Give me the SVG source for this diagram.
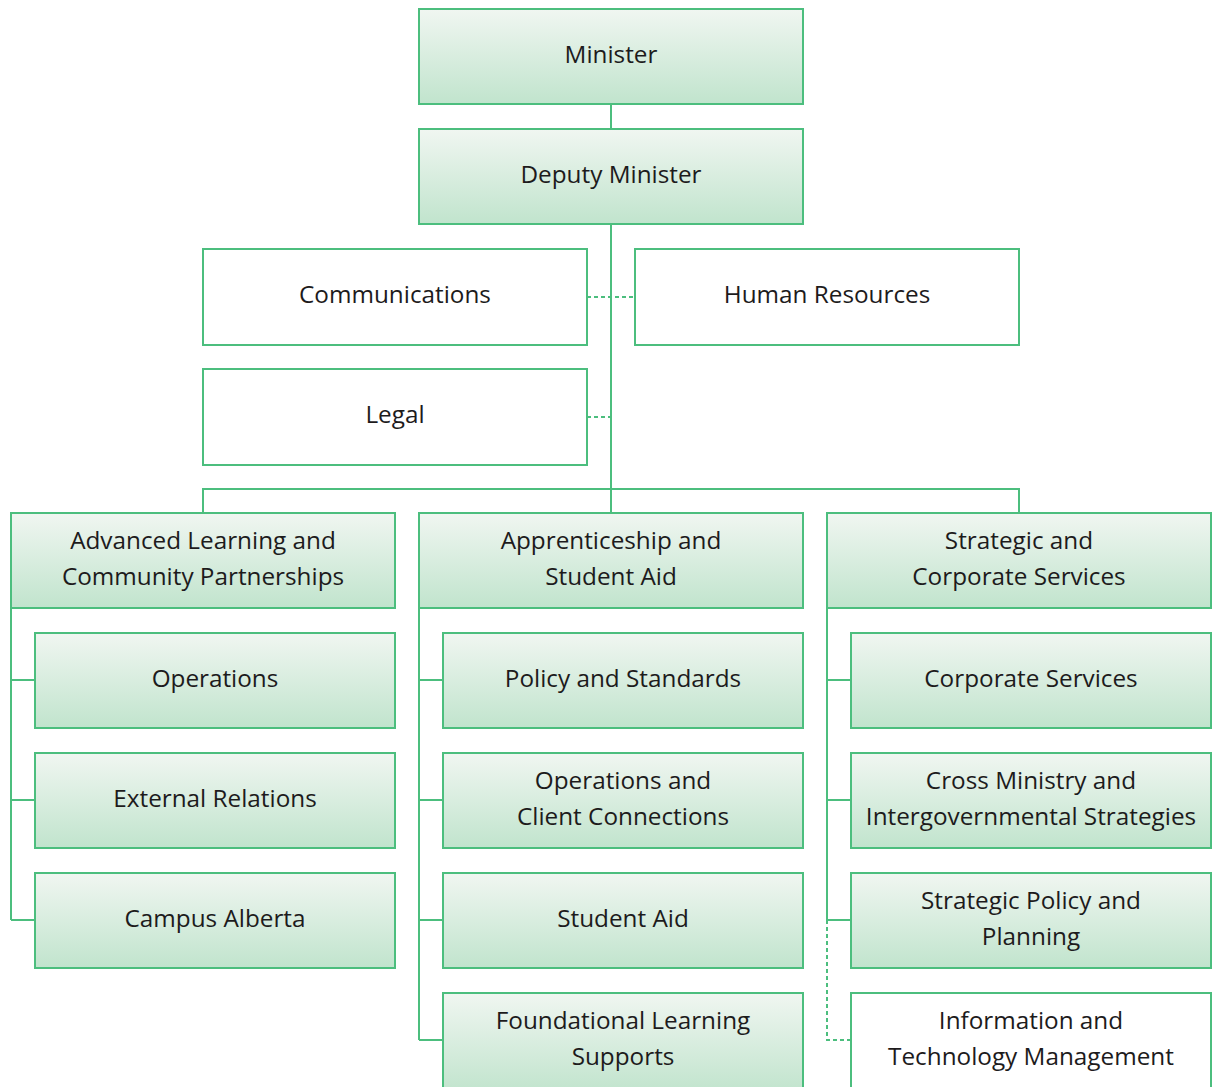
<svg xmlns="http://www.w3.org/2000/svg" width="1217" height="1087" viewBox="0 0 1217 1087">
  <defs>
    <linearGradient id="fill-green" x1="0" y1="0" x2="0" y2="1">
      <stop offset="0" stop-color="#f0f6f1"/>
      <stop offset="1" stop-color="#c1e4cd"/>
    </linearGradient>
    <style>
      .box { fill: url(#fill-green); stroke: #4cbe7e; stroke-width: 2; }
      .plain { fill: #ffffff; stroke: #4cbe7e; stroke-width: 2; }
      .lbl { font-family: "Open Sans", "Noto Sans", "Liberation Sans", sans-serif; font-size: 24.3px; fill: #1d1b1c; text-anchor: middle; dominant-baseline: central; }
      .line { fill: none; stroke: #4cbe7e; stroke-width: 2; }
      .dash { fill: none; stroke: #4cbe7e; stroke-width: 2; stroke-dasharray: 4 3; }
    </style>
  </defs>
  <rect width="1217" height="1087" fill="#ffffff"/>

  <!-- connectors -->
  <g id="connectors">
    <path class="line" d="M611 104 V129 M611 224 V489 M203 513 V489 H1019 V513 M611 489 V513"/>
    <path class="dash" d="M587 297 H635 M587 417 H611"/>
    <path class="line" d="M11 608 V920 M11 680 H35 M11 800 H35 M11 920 H35"/>
    <path class="line" d="M419 608 V1040 M419 680 H443 M419 800 H443 M419 920 H443 M419 1040 H443"/>
    <path class="line" d="M827 608 V920 M827 680 H851 M827 800 H851 M827 920 H851"/>
    <path class="dash" d="M827 920 V1040 H851"/>
  </g>

  <g id="minister"><rect class="box" x="419" y="9" width="384" height="95"/><text class="lbl" x="611" y="53">Minister</text></g>
  <g id="deputy-minister"><rect class="box" x="419" y="129" width="384" height="95"/><text class="lbl" x="611" y="173">Deputy Minister</text></g>
  <g id="communications"><rect class="plain" x="203" y="249" width="384" height="96"/><text class="lbl" x="395" y="293">Communications</text></g>
  <g id="human-resources"><rect class="plain" x="635" y="249" width="384" height="96"/><text class="lbl" x="827" y="293">Human Resources</text></g>
  <g id="legal"><rect class="plain" x="203" y="369" width="384" height="96"/><text class="lbl" x="395" y="413">Legal</text></g>

  <g id="alcp"><rect class="box" x="11" y="513" width="384" height="95"/><text class="lbl" x="203" y="539">Advanced Learning and</text><text class="lbl" x="203" y="575">Community Partnerships</text></g>
  <g id="asa"><rect class="box" x="419" y="513" width="384" height="95"/><text class="lbl" x="611" y="539">Apprenticeship and</text><text class="lbl" x="611" y="575">Student Aid</text></g>
  <g id="scs"><rect class="box" x="827" y="513" width="384" height="95"/><text class="lbl" x="1019" y="539">Strategic and</text><text class="lbl" x="1019" y="575">Corporate Services</text></g>

  <g id="operations"><rect class="box" x="35" y="633" width="360" height="95"/><text class="lbl" x="215" y="677">Operations</text></g>
  <g id="external-relations"><rect class="box" x="35" y="753" width="360" height="95"/><text class="lbl" x="215" y="797">External Relations</text></g>
  <g id="campus-alberta"><rect class="box" x="35" y="873" width="360" height="95"/><text class="lbl" x="215" y="917">Campus Alberta</text></g>

  <g id="policy-standards"><rect class="box" x="443" y="633" width="360" height="95"/><text class="lbl" x="623" y="677">Policy and Standards</text></g>
  <g id="operations-client"><rect class="box" x="443" y="753" width="360" height="95"/><text class="lbl" x="623" y="779">Operations and</text><text class="lbl" x="623" y="815">Client Connections</text></g>
  <g id="student-aid"><rect class="box" x="443" y="873" width="360" height="95"/><text class="lbl" x="623" y="917">Student Aid</text></g>
  <g id="foundational"><rect class="box" x="443" y="993" width="360" height="100"/><text class="lbl" x="623" y="1019">Foundational Learning</text><text class="lbl" x="623" y="1055">Supports</text></g>

  <g id="corporate-services"><rect class="box" x="851" y="633" width="360" height="95"/><text class="lbl" x="1031" y="677">Corporate Services</text></g>
  <g id="cross-ministry"><rect class="box" x="851" y="753" width="360" height="95"/><text class="lbl" x="1031" y="779">Cross Ministry and</text><text class="lbl" x="1031" y="815">Intergovernmental Strategies</text></g>
  <g id="strategic-policy"><rect class="box" x="851" y="873" width="360" height="95"/><text class="lbl" x="1031" y="899">Strategic Policy and</text><text class="lbl" x="1031" y="935">Planning</text></g>
  <g id="itm"><rect class="plain" x="851" y="993" width="360" height="100"/><text class="lbl" x="1031" y="1019">Information and</text><text class="lbl" x="1031" y="1055">Technology Management</text></g>
</svg>
